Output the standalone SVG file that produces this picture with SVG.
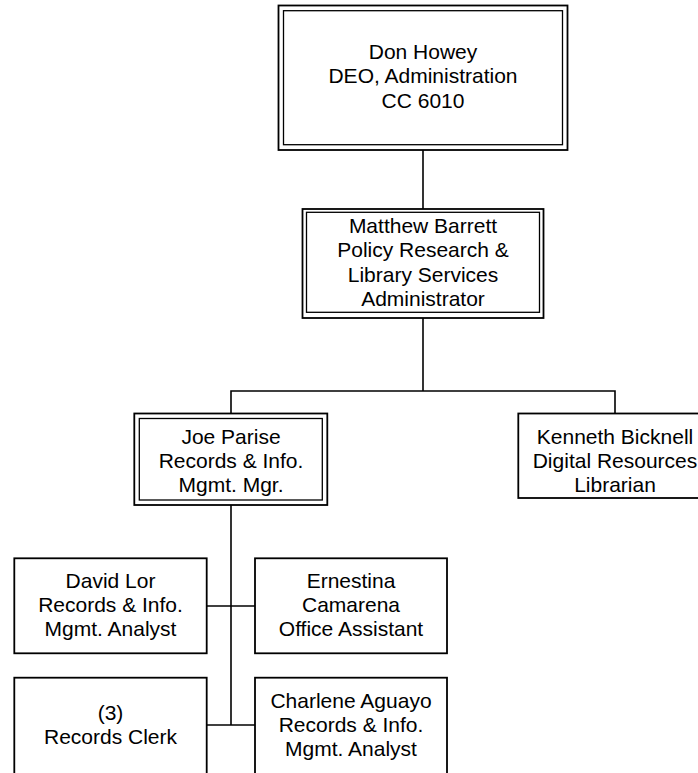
<svg xmlns="http://www.w3.org/2000/svg" width="698" height="773" viewBox="0 0 698 773">
<style>
.box{fill:#fff;stroke:#000;stroke-width:1.8}
.inner{fill:none;stroke:#000;stroke-width:1.3}
.con{fill:none;stroke:#000;stroke-width:1.6}
text{font-family:"Liberation Sans",Arial,sans-serif;font-size:21px;fill:#000;text-anchor:middle}
</style>
<rect width="698" height="773" fill="#fff"/>
<g id="connectors">
<line class="con" x1="423" y1="150" x2="423" y2="209"/>
<line class="con" x1="423" y1="318" x2="423" y2="391"/>
<polyline class="con" points="231,413 231,391 615,391 615,413"/>
<line class="con" x1="231" y1="505" x2="231" y2="725"/>
<line class="con" x1="206.7" y1="606" x2="255" y2="606"/>
<line class="con" x1="206.7" y1="725" x2="255" y2="725"/>
</g>
<g id="don">
<rect class="box" x="278.5" y="5.5" width="289" height="144.5"/>
<rect class="inner" x="283.5" y="10.7" width="279" height="134"/>
<text x="423" y="59">Don Howey</text>
<text x="423" y="83">DEO, Administration</text>
<text x="423" y="107.5">CC 6010</text>
</g>
<g id="matthew">
<rect class="box" x="302.5" y="209" width="241" height="109"/>
<rect class="inner" x="306.5" y="212.3" width="233" height="100"/>
<text x="423" y="232.5">Matthew Barrett</text>
<text x="423" y="257">Policy Research &amp;</text>
<text x="423" y="281.5">Library Services</text>
<text x="423" y="306">Administrator</text>
</g>
<g id="joe">
<rect class="box" x="134.3" y="413.5" width="193" height="91.5"/>
<rect class="inner" x="139.3" y="418.5" width="183" height="81.5"/>
<text x="231" y="444">Joe Parise</text>
<text x="231" y="468">Records &amp; Info.</text>
<text x="231" y="492">Mgmt. Mgr.</text>
</g>
<g id="kenneth">
<rect class="box" x="518.3" y="413.5" width="194" height="84.5"/>
<text x="615" y="444">Kenneth Bicknell</text>
<text x="615" y="468">Digital Resources</text>
<text x="615" y="492">Librarian</text>
</g>
<g id="david">
<rect class="box" x="14.3" y="558.3" width="192.4" height="95"/>
<text x="110.5" y="588">David Lor</text>
<text x="110.5" y="612">Records &amp; Info.</text>
<text x="110.5" y="636">Mgmt. Analyst</text>
</g>
<g id="ernestina">
<rect class="box" x="255" y="558.3" width="192" height="95"/>
<text x="351" y="588">Ernestina</text>
<text x="351" y="612">Camarena</text>
<text x="351" y="636">Office Assistant</text>
</g>
<g id="clerk">
<rect class="box" x="14.3" y="677.7" width="192.4" height="110"/>
<text x="110.5" y="720">(3)</text>
<text x="110.5" y="744">Records Clerk</text>
</g>
<g id="charlene">
<rect class="box" x="255" y="677.7" width="192" height="110"/>
<text x="351" y="708">Charlene Aguayo</text>
<text x="351" y="732">Records &amp; Info.</text>
<text x="351" y="756">Mgmt. Analyst</text>
</g>
</svg>
